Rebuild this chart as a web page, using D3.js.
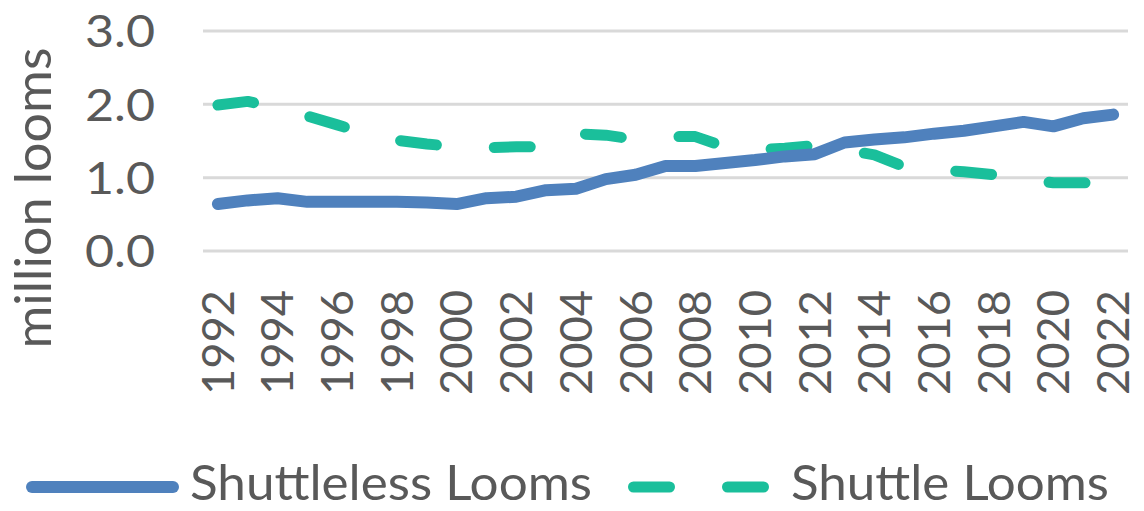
<!DOCTYPE html>
<html>
<head>
<meta charset="utf-8">
<script src="https://cdn.jsdelivr.net/npm/d3@7"></script>
<style>
  html, body { margin: 0; padding: 0; background: #ffffff; }
  svg { display: block; }
  text { font-family: Lato, "Open Sans", "Liberation Sans", sans-serif; fill: #595959; }
</style>
</head>
<body>
<svg id="chart" width="1144" height="511"></svg>
<script>
// ---- data ----
const years = ["1992","1993","1994","1995","1996","1997","1998","1999","2000","2001","2002",
  "2003","2004","2005","2006","2007","2008","2009","2010","2011","2012","2013","2014","2015",
  "2016","2017","2018","2019","2020","2021","2022"];
const tickYears = ["1992","1994","1996","1998","2000","2002","2004","2006","2008","2010",
  "2012","2014","2016","2018","2020","2022"];
const shuttleless = [0.64,0.69,0.72,0.67,0.67,0.67,0.67,0.66,0.64,0.72,0.74,0.83,0.85,0.98,
  1.04,1.16,1.16,1.20,1.24,1.29,1.32,1.48,1.52,1.55,1.60,1.64,1.70,1.76,1.70,1.81,1.86];
const shuttle = [1.99,2.04,1.95,1.84,1.72,1.60,1.51,1.46,1.42,1.41,1.42,1.42,1.60,1.58,
  1.52,1.56,1.56,1.42,1.38,1.40,1.44,1.38,1.31,1.15,1.11,1.08,1.04,0.98,0.93,0.93,0.93];
const yTicks = [0, 1, 2, 3];
const seriesNames = ["Shuttleless Looms", "Shuttle Looms"];
const colors = ["#4F81BD", "#1ABF9B"];

// ---- layout ----
const svg = d3.select("#chart");
const plot = { left: 203, right: 1128, top: 31, bottom: 251 };

const x = d3.scaleBand().domain(years).range([plot.left, plot.right]).paddingInner(0).paddingOuter(0);
const cx = d => x(d) + x.bandwidth() / 2;
const y = d3.scaleLinear().domain([0, 3]).range([plot.bottom, plot.top]);

// gridlines
svg.append("g").selectAll("line").data(yTicks).join("line")
  .attr("x1", plot.left).attr("x2", plot.right)
  .attr("y1", d => y(d)).attr("y2", d => y(d))
  .attr("stroke", "#d9d9d9").attr("stroke-width", 3);

// y axis labels
const yAxis = d3.axisLeft(y).tickValues(yTicks).tickFormat(d3.format(".1f")).tickSize(0).tickPadding(0);
const yg = svg.append("g").attr("transform", `translate(155,0)`).call(yAxis);
yg.select(".domain").remove();
yg.selectAll("text")
  .attr("font-size", 44).attr("fill", "#595959")
  .attr("font-family", "Lato, 'Open Sans', sans-serif")
  .attr("dy", "0.36em")
  .attr("textLength", 70).attr("lengthAdjust", "spacingAndGlyphs");

// x axis labels (rotated)
const xAxis = d3.axisBottom(x).tickValues(tickYears).tickSize(0).tickPadding(0);
const xg = svg.append("g").attr("transform", `translate(0,290)`).call(xAxis);
xg.select(".domain").remove();
xg.selectAll("text")
  .attr("font-size", 44).attr("fill", "#595959")
  .attr("font-family", "Lato, 'Open Sans', sans-serif")
  .attr("text-anchor", "end")
  .attr("transform", "rotate(-90)")
  .attr("x", 0).attr("y", 0).attr("dy", "0.36em")
  .attr("textLength", 105).attr("lengthAdjust", "spacingAndGlyphs");

// y axis title
svg.append("text")
  .attr("transform", "translate(51,198) rotate(-90)")
  .attr("text-anchor", "middle")
  .attr("font-size", 50)
  .attr("textLength", 301).attr("lengthAdjust", "spacingAndGlyphs")
  .text("million looms");

// lines
const line = d3.line().x((d, i) => cx(years[i])).y(d => y(d)).curve(d3.curveLinear);

svg.append("path").datum(shuttle)
  .attr("d", line)
  .attr("fill", "none").attr("stroke", colors[1]).attr("stroke-width", 11)
  .attr("stroke-linecap", "round").attr("stroke-linejoin", "round")
  .attr("stroke-dasharray", "36,58");

svg.append("path").datum(shuttleless)
  .attr("d", line)
  .attr("fill", "none").attr("stroke", colors[0]).attr("stroke-width", 12)
  .attr("stroke-linecap", "round").attr("stroke-linejoin", "round");

// legend
const lg = svg.append("g");
lg.append("line").attr("x1", 32).attr("x2", 173).attr("y1", 487).attr("y2", 487)
  .attr("stroke", colors[0]).attr("stroke-width", 12).attr("stroke-linecap", "round");
lg.append("text").attr("x", 190).attr("y", 500).attr("font-size", 48)
  .attr("textLength", 402).attr("lengthAdjust", "spacingAndGlyphs")
  .text(seriesNames[0]);
lg.append("line").attr("x1", 633.5).attr("x2", 768.5).attr("y1", 487).attr("y2", 487)
  .attr("stroke", colors[1]).attr("stroke-width", 11).attr("stroke-linecap", "round")
  .attr("stroke-dasharray", "36,58");
lg.append("text").attr("x", 791).attr("y", 500).attr("font-size", 48)
  .attr("textLength", 318).attr("lengthAdjust", "spacingAndGlyphs")
  .text(seriesNames[1]);
</script>
</body>
</html>
